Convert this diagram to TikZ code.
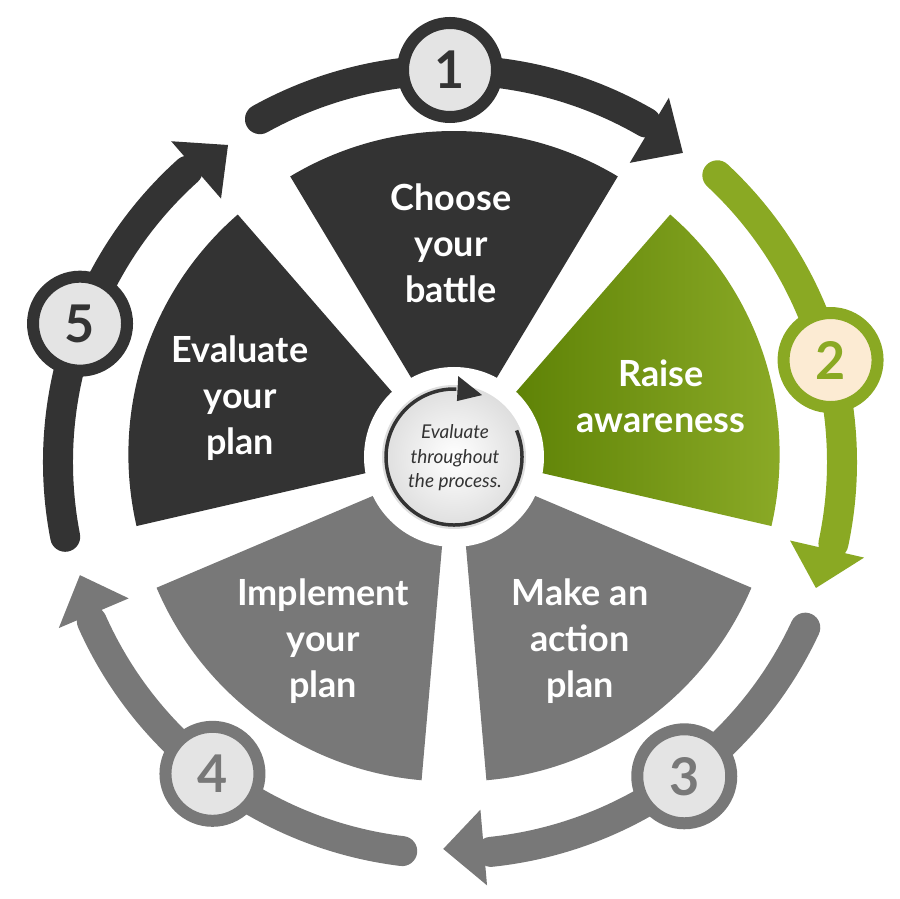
\documentclass[tikz,border=0pt]{standalone}
\usepackage{fontspec}
\setmainfont{Lato}
\definecolor{dk}{HTML}{333333}
\definecolor{gr}{HTML}{8AA923}
\definecolor{gy}{HTML}{787878}
\definecolor{cfill}{HTML}{E4E4E4}
\definecolor{cream}{HTML}{FCEBD3}
\definecolor{gdark}{HTML}{567B00}
\definecolor{glight}{HTML}{8DAC28}
\begin{document}
\begin{tikzpicture}[x=1pt,y=1pt,
  seg/.style={line width=30pt},
  numcirc/.style={circle, minimum size=94pt, line width=12pt, inner sep=0pt,
    font=\fontsize{52}{52}\selectfont\bfseries},
  lbl/.style={align=center, text=white, font=\fontsize{36}{46}\selectfont\bfseries, anchor=base},
]
\useasboundingbox (-450,-437) rectangle (450,462);
% wedges
\foreach \k/\col in {0/dk,2/gy,3/gy,4/dk}{
  \pgfmathsetmacro\th{90-72*\k}
  \fill[\col, shift={(4,5)}, shift={(\th:8)}] (0,0) -- (\th-31:318)
     arc[start angle=\th-31, end angle=\th+31, radius=318] -- cycle;
}
\shade[left color=gdark, right color=glight, shift={(4,5)}, shift={(18:8)}] (0,0) -- (-13:318)
     arc[start angle=-13, end angle=49, radius=318] -- cycle;
\fill[white] (4,5) circle (90);
% inner circle
\shade[inner color=white, outer color=black!13] (4,5) circle (72);
\begin{scope}[shift={(4,5)}]
\draw[dk, line width=3.5pt] (23:68) arc[start angle=23, end angle=-272, radius=68];
\fill[dk] (-294.4:68) -- (87:56) -- (87:81) -- cycle;
\end{scope}
\node[anchor=base, align=center, text=dk, font=\fontsize{19}{24.5}\selectfont\itshape] (mid) at (5,-26)
  {Evaluate\\throughout\\the process.};
% ring segments
\foreach \k/\col in {0/dk,1/gr,2/gy,3/gy,4/dk}{
  \pgfmathsetmacro\s{119-72*\k}
  \pgfmathsetmacro\t{53-72*\k}
  \pgfmathsetmacro\b{\t+6}
  \draw[seg, \col, line cap=round] (\s:392) arc[start angle=\s, end angle=\b+1, radius=392];
  \fill[\col] (\t:387) -- (\b:349) -- (\b:425) -- cycle;
}
% number circles
\node[numcirc, draw=dk, fill=cfill, text=dk] (n1) at (90:392) {1};
\node[numcirc, draw=gr, fill=cream, text=gr] (n2) at (15:394) {2};
\node[numcirc, draw=gy, fill=cfill, text=gy] (n3) at (-53.3:392) {3};
\node[numcirc, draw=gy, fill=cfill, text=gy] (n4) at (-127.3:392) {4};
\node[numcirc, draw=dk, fill=cfill, text=dk] (n5) at (159.5:395) {5};
% labels
\node[lbl] (l1) at (1,159) {Choose\\your\\battle};
\node[lbl] (l2) at (211,29) {Raise\\awareness};
\node[lbl] (l3) at (130,-235) {Make an\\action\\plan};
\node[lbl] (l4) at (-127,-235) {Implement\\your\\plan};
\node[lbl] (l5) at (-210,7) {Evaluate\\your\\plan};
\end{tikzpicture}
\end{document}
